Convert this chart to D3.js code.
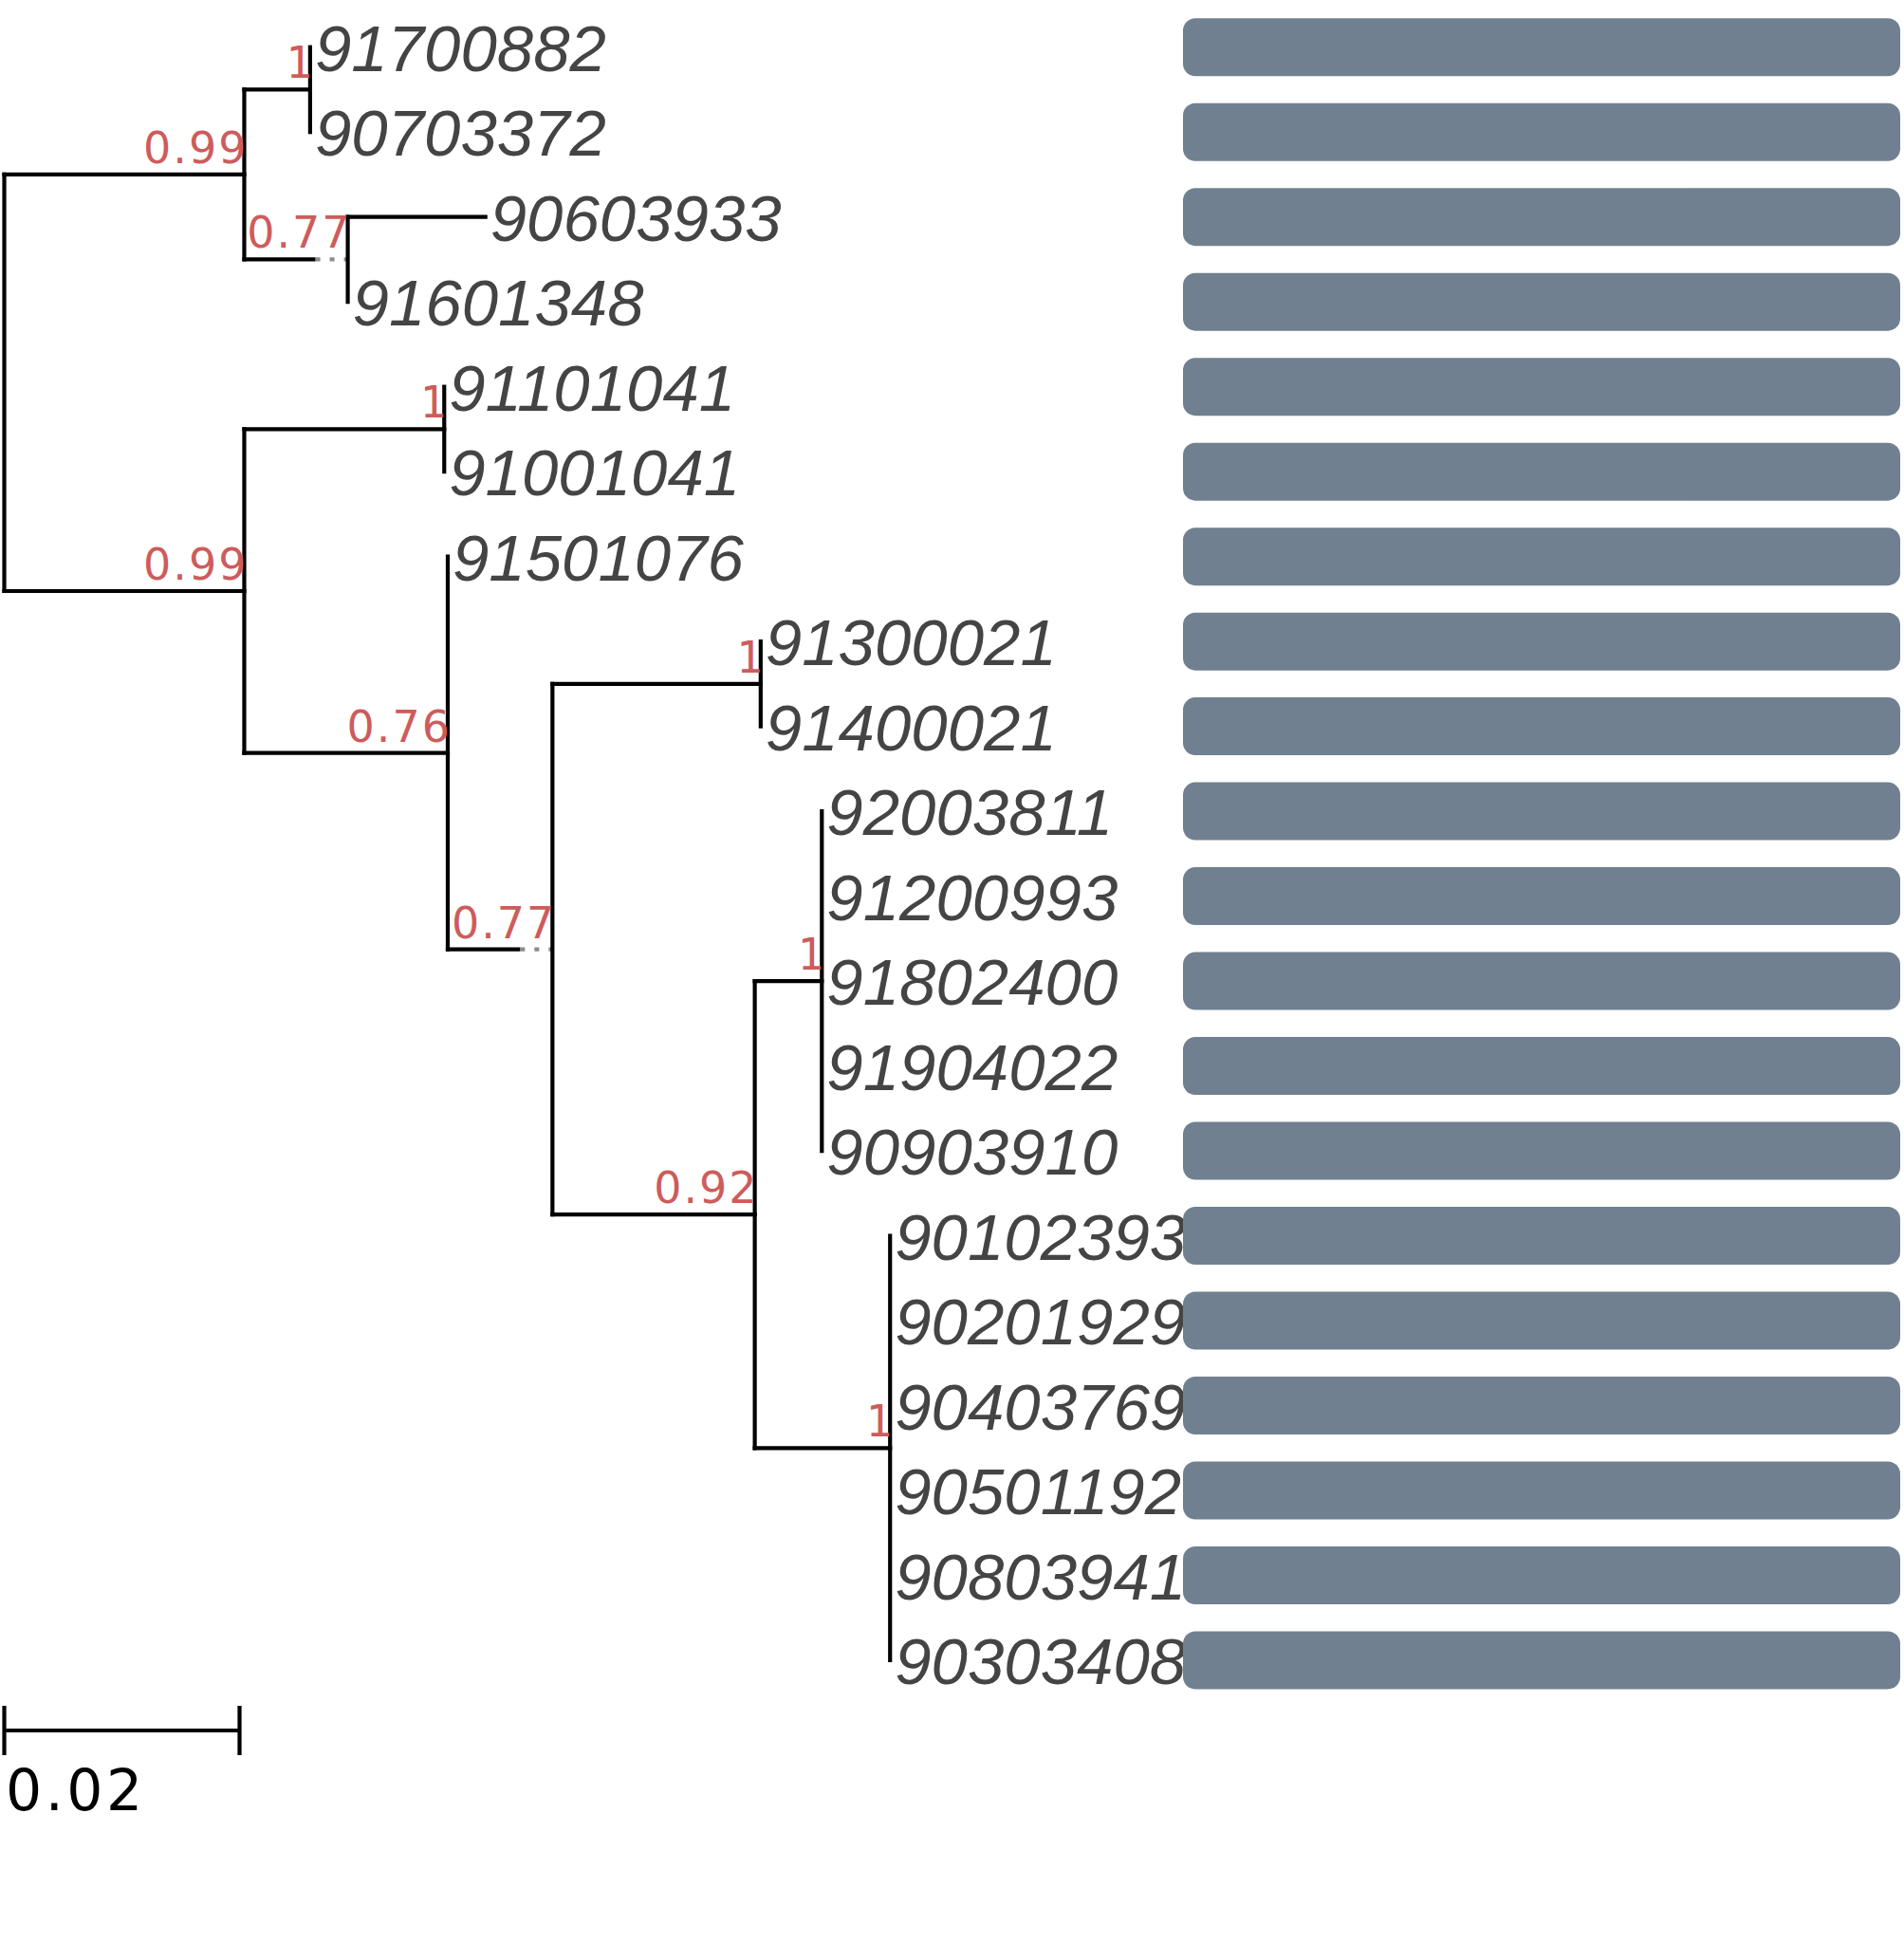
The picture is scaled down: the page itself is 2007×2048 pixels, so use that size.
<!DOCTYPE html>
<html>
<head>
<meta charset="utf-8">
<script src="https://cdn.jsdelivr.net/npm/d3@7"></script>
<style>
  body { margin: 0; background: #fff; }
</style>
</head>
<body>
<div id="chart-container"></div>
<script>
// tips, top to bottom
const tipLabels = ["91700882", "90703372", "90603933", "91601348", "91101041", "91001041",
  "91501076", "91300021", "91400021", "92003811", "91200993", "91802400", "91904022",
  "90903910", "90102393", "90201929", "90403769", "90501192", "90803941", "90303408"];
const tipParents = ["A1", "A1", "A2", "A2", "B1", "B1", "B2", "B4", "B4", "B6", "B6", "B6", "B6",
  "B6", "B7", "B7", "B7", "B7", "B7", "B7"];
const tipLengths = [0, 0, 0.0117, 0, 0, 0, 0, 0, 0, 0, 0, 0, 0, 0, 0, 0, 0, 0, 0, 0];

// internal nodes
const nodeIds = ["root", "A", "A1", "A2", "B", "B1", "B2", "B3", "B4", "B5", "B6", "B7"];
const nodeParents = ["", "root", "A", "A", "root", "B", "B", "B2", "B3", "B3", "B5", "B5"];
const nodeLengths = [0, 0.0204, 0.0056, 0.0088, 0.0204, 0.0170, 0.0173, 0.0089, 0.0177, 0.0172, 0.0057, 0.0115];
const nodeSupport = ["", "0.99", "1", "0.77", "0.99", "1", "0.76", "0.77", "1", "0.92", "1", "1"];

// branches drawn with a faint dotted end
const dottedTail = ["A2", "B3"];

const scaleBarValue = 0.02;

const width = 2007, height = 2048;

const svg = d3.select("#chart-container")
  .append("svg")
  .attr("width", width)
  .attr("height", height);

// build the tree
const rows = nodeIds.map((id, i) => ({ id: id, parent: nodeParents[i], len: nodeLengths[i], support: nodeSupport[i], tip: false }))
  .concat(tipLabels.map((id, i) => ({ id: id, parent: tipParents[i], len: tipLengths[i], support: "", tip: true })));

const root = d3.stratify()
  .id((d) => d.id)
  .parentId((d) => d.parent || null)(rows);

// keep children in the tip order
const tipOrder = new Map(tipLabels.map((t, i) => [t, i]));
function firstTip(n) { return n.children ? d3.min(n.children, firstTip) : tipOrder.get(n.id); }
root.sort((a, b) => firstTip(a) - firstTip(b));

// scales
const x = d3.scaleLinear()
  .domain([0, scaleBarValue])
  .range([4.5, 252.5]);

const y = d3.scalePoint()
  .domain(tipLabels)
  .range([49.7, 1750]);

root.eachBefore((n) => { n.dist = (n.parent ? n.parent.dist : 0) + n.data.len; });
root.eachAfter((n) => {
  n.py = n.children ? (n.children[0].py + n.children[n.children.length - 1].py) / 2 : y(n.id);
  n.px = x(n.dist);
});

const lineW = 4.2;
const tree = svg.append("g");

// horizontal branches
root.descendants().filter((n) => n.parent).forEach((n) => {
  const x0 = n.parent.px, x1 = n.px;
  if (x1 - x0 < 0.5) return;
  const dotted = dottedTail.includes(n.id);
  const solidEnd = dotted ? x1 - 36 : x1;
  tree.append("line")
    .attr("x1", x0).attr("x2", solidEnd)
    .attr("y1", n.py).attr("y2", n.py)
    .attr("stroke", "#000")
    .attr("stroke-width", lineW)
    .attr("stroke-linecap", "square");
  if (dotted) {
    tree.append("line")
      .attr("x1", solidEnd + 2).attr("x2", x1)
      .attr("y1", n.py).attr("y2", n.py)
      .attr("stroke", "#8c8c8c")
      .attr("stroke-width", lineW)
      .attr("stroke-dasharray", "5 10");
  }
});

// vertical connectors
root.descendants().filter((n) => n.children).forEach((n) => {
  tree.append("line")
    .attr("x1", n.px).attr("x2", n.px)
    .attr("y1", n.children[0].py)
    .attr("y2", n.children[n.children.length - 1].py)
    .attr("stroke", "#000")
    .attr("stroke-width", lineW)
    .attr("stroke-linecap", "square");
});

// tip labels
svg.append("g")
  .selectAll("text")
  .data(root.leaves())
  .enter()
  .append("text")
  .attr("x", (d) => d.px + 5)
  .attr("y", (d) => d.py + 25)
  .style("font-family", "'Liberation Sans', Arial, sans-serif")
  .style("font-style", "italic")
  .style("font-size", "69px")
  .style("fill", "#444444")
  .text((d) => d.id);

// support values
svg.append("g")
  .selectAll("text")
  .data(root.descendants().filter((n) => n.data.support !== ""))
  .enter()
  .append("text")
  .attr("x", (d) => d.px + 4)
  .attr("y", (d) => d.py - 12)
  .style("text-anchor", "end")
  .style("font-family", (d) => d.data.support === "1" ? "'DejaVu Sans Mono', monospace" : "'DejaVu Sans', sans-serif")
  .style("font-size", "46px")
  .style("letter-spacing", "2px")
  .style("fill", "#CD5C5C")
  .text((d) => d.data.support);

// bars on the right
const barX = d3.scaleLinear().domain([0, 1]).range([1247, 2003]);
svg.append("g")
  .selectAll("rect")
  .data(tipLabels)
  .enter()
  .append("rect")
  .attr("x", barX(0))
  .attr("y", (d) => y(d) - 30.5)
  .attr("width", barX(1) - barX(0))
  .attr("height", 61)
  .attr("rx", 13)
  .attr("ry", 13)
  .attr("fill", "#708090");

// scale bar
const sb = svg.append("g");
sb.append("line")
  .attr("x1", x(0)).attr("x2", x(scaleBarValue))
  .attr("y1", 1824).attr("y2", 1824)
  .attr("stroke", "#000").attr("stroke-width", lineW);
[0, scaleBarValue].forEach((v) => {
  sb.append("line")
    .attr("x1", x(v)).attr("x2", x(v))
    .attr("y1", 1798).attr("y2", 1850)
    .attr("stroke", "#000").attr("stroke-width", lineW);
});
sb.append("text")
  .attr("x", 6)
  .attr("y", 1908)
  .style("font-family", "'DejaVu Sans', sans-serif")
  .style("font-size", "60px")
  .style("letter-spacing", "3.5px")
  .style("fill", "#000")
  .text(scaleBarValue);
</script>
</body>
</html>
